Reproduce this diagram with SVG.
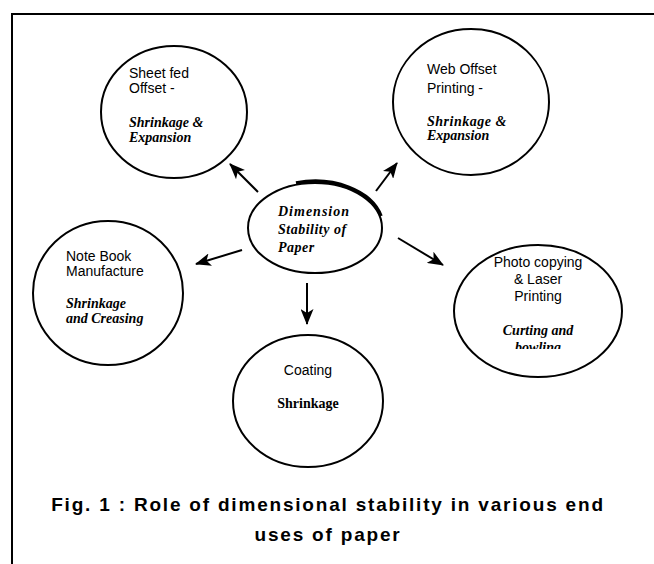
<svg xmlns="http://www.w3.org/2000/svg" width="654" height="564" viewBox="0 0 654 564">
<style>
.node{fill:#fff;stroke:#000;stroke-width:2}
.sans{font-family:"Liberation Sans",Arial,sans-serif;font-size:14px;fill:#000}
.ital{font-family:"Liberation Serif","Times New Roman",serif;font-size:14px;font-weight:bold;font-style:italic;fill:#000}
.bold{font-family:"Liberation Serif","Times New Roman",serif;font-size:14px;font-weight:bold;fill:#000}
.cap{font-family:"Liberation Sans",Arial,sans-serif;font-size:19px;font-weight:bold;fill:#000;letter-spacing:1.8px}
.conn line{stroke:#000;stroke-width:2;marker-end:url(#ah)}
</style>
<defs>
<marker id="ah" viewBox="0 0 16 13" refX="15" refY="6.5" markerWidth="16" markerHeight="13" markerUnits="userSpaceOnUse" orient="auto">
<path d="M0,0 L16,6.5 L0,13 L4,6.5 Z" fill="#000"/>
</marker>
<clipPath id="cutBow"><rect x="470" y="338" width="140" height="11"/></clipPath>
</defs>
<rect width="654" height="564" fill="#fff"/>
<path d="M12,564 V14 H654" fill="none" stroke="#000" stroke-width="2"/>

<g id="center">
<ellipse class="node" cx="315" cy="228" rx="67" ry="45"/>
<path d="M296,183 A68,46 0 0,1 381,216" fill="none" stroke="#000" stroke-width="3.5"/>
<text class="ital" x="278" y="216" letter-spacing="1">Dimension</text>
<text class="ital" x="278" y="234" letter-spacing="0.5">Stability of</text>
<text class="ital" x="278" y="252" letter-spacing="0.5">Paper</text>
</g>

<g id="sheetfed">
<ellipse class="node" cx="174" cy="112" rx="73" ry="66"/>
<text class="sans" x="129" y="78">Sheet fed</text>
<text class="sans" x="129" y="93">Offset -</text>
<text class="ital" x="129" y="127">Shrinkage &amp;</text>
<text class="ital" x="129" y="142">Expansion</text>
</g>

<g id="weboffset">
<ellipse class="node" cx="471" cy="102" rx="78" ry="73"/>
<text class="sans" x="427" y="74">Web Offset</text>
<text class="sans" x="427" y="93">Printing -</text>
<text class="ital" x="427" y="126" letter-spacing="0.5">Shrinkage  &amp;</text>
<text class="ital" x="427" y="140">Expansion</text>
</g>

<g id="notebook">
<ellipse class="node" cx="108" cy="293" rx="75" ry="72"/>
<text class="sans" x="66" y="261">Note Book</text>
<text class="sans" x="66" y="276">Manufacture</text>
<text class="ital" x="66" y="308">Shrinkage</text>
<text class="ital" x="66" y="323">and Creasing</text>
</g>

<g id="photocopy">
<ellipse class="node" cx="538" cy="311" rx="84" ry="66"/>
<text class="sans" x="538" y="267" text-anchor="middle">Photo copying</text>
<text class="sans" x="538" y="284" text-anchor="middle">&amp; Laser</text>
<text class="sans" x="538" y="301" text-anchor="middle">Printing</text>
<text class="ital" x="538" y="335" text-anchor="middle">Curting and</text>
<text class="ital" x="538" y="352" text-anchor="middle" clip-path="url(#cutBow)">bowling</text>
</g>

<g id="coating">
<ellipse class="node" cx="308" cy="401" rx="75" ry="66"/>
<text class="sans" x="308" y="375" text-anchor="middle">Coating</text>
<text class="bold" x="308" y="408" text-anchor="middle">Shrinkage</text>
</g>

<g id="connectors" class="conn">
<line x1="258" y1="192" x2="230" y2="164"/>
<line x1="376" y1="191" x2="397" y2="163"/>
<line x1="242" y1="250" x2="196" y2="264"/>
<line x1="398" y1="238" x2="443" y2="265"/>
<line x1="307" y1="283" x2="307" y2="324"/>
</g>

<g id="caption">
<text class="cap" x="328" y="511" text-anchor="middle">Fig. 1 : Role of dimensional stability in various end</text>
<text class="cap" x="328" y="541" text-anchor="middle">uses of paper</text>
</g>
</svg>
